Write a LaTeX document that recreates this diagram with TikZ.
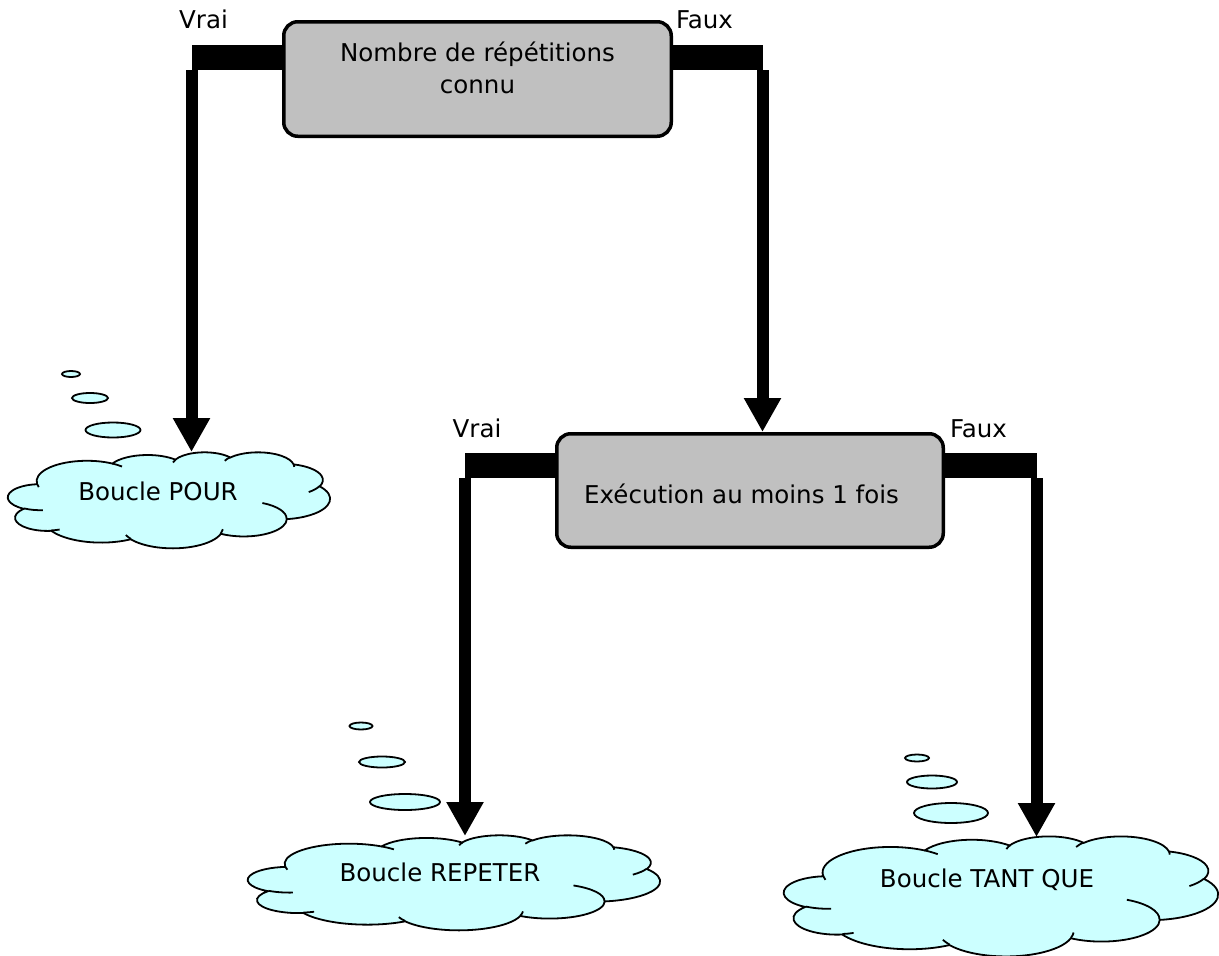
\documentclass[tikz,border=0pt]{standalone}
\usepackage{fontspec}
\setmainfont{DejaVu Sans}
\usetikzlibrary{arrows.meta}
\definecolor{cloudfill}{HTML}{CCFFFF}
\definecolor{boxfill}{HTML}{C0C0C0}

% Elliptical arc given with geometric angles: turn them into the
% parametric start angle and sweep that TikZ's arc expects.
\newcommand\cloudprep[4]{%
  \pgfmathparse{atan2((#1)*sin(#3),(#2)*cos(#3))}\global\let\cldS\pgfmathresult
  \pgfmathparse{atan2((#1)*sin((#3)+(#4)),(#2)*cos((#3)+(#4)))}\global\let\cldE\pgfmathresult
  \pgfmathparse{mod(\cldE-\cldS+720,360)}\global\let\cldD\pgfmathresult}

% Cloud outline in a 432 x 432 frame, fitted to the box left/top/width/height
\newcommand\cloudoutline[4]{%
  \pgfmathsetmacro\cldux{#3/432}%
  \pgfmathsetmacro\clduy{#4/432}%
  \begin{scope}[shift={(#1pt,-#2pt)}, x=\cldux pt, y=-\clduy pt]
    \filldraw[cloudline, fill=cloudfill] (39,143.7)
      \foreach \w/\h/\s/\d in {
        67.53/91.90/-190.4875/123.7805,
        53.33/72.67/-144.1024/89.9452,
        43.65/59.45/-145.8079/99.7230,
        48.57/65.95/-130.9861/117.2417,
        53.33/72.73/-78.7089/109.0269,
        67.75/92.20/-46.2673/130.2690,
        57.85/78.67/0.6250/114.0333,
        67.52/92.15/22.4516/115.1726,
        77.20/105.43/66.2426/75.7110,
        43.60/59.18/-274.9421/146.7356,
        43.45/59.45/-246.8285/152.5189}
      {\pgfextra{\cloudprep{\w}{\h}{\s}{\d}}
       arc[start angle=\cldS, delta angle=\cldD, x radius=\w, y radius=\h]}
      -- cycle;
    \foreach \px/\py/\w/\h/\s/\d in {
        46.93/261.77/43.45/59.45/86.7420/26.4295,
        69.28/348.99/43.60/59.18/73.6105/11.4475,
        164.78/390.90/67.52/92.15/137.6242/14.0811,
        288.27/347.51/67.52/92.15/6.4533/15.9984,
        341.29/229.54/57.85/78.67/-70.2924/70.9174,
        417.98/153.54/53.33/72.73/30.3180/27.7515,
        383.24/54.26/48.57/65.95/-13.7443/14.8589,
        290.78/39.52/48.57/65.95/-149.1815/18.1954,
        221.41/47.20/43.65/59.45/-163.4943/17.6964,
        140.00/51.92/67.53/91.90/-66.7070/12.3194,
        41.27/157.89/67.53/91.90/157.6544/11.8582}
      {\draw[cloudline] (\px,\py) \pgfextra{\cloudprep{\w}{\h}{\s}{\d}}
         arc[start angle=\cldS, delta angle=\cldD, x radius=\w, y radius=\h];}
  \end{scope}}

\tikzset{
  cloudline/.style={draw=black, line width=1.8pt},
  bubble/.style={cloudline, fill=cloudfill},
  decision/.style={draw=black, line width=3.5pt, fill=boxfill,
    rounded corners=14pt, inner sep=0pt},
  lbl/.style={font=\fontsize{24.5}{29}\selectfont, inner sep=0pt, anchor=base},
  bar/.style={draw=black, line width=25pt},
  shaft/.style={draw=black, line width=12pt,
    -{Triangle[width=35pt,length=34pt]}},
}

\begin{document}
\begin{tikzpicture}[x=1pt, y=-1pt]
  \useasboundingbox (0,0) rectangle (1219,956);
  \fill[white] (0,0) rectangle (1219,956);

  % clouds with their trails of small bubbles
  \cloudoutline{8}{452}{322}{96}
  \draw[bubble] (71,374) ellipse [x radius=9, y radius=3];
  \draw[bubble] (90,398) ellipse [x radius=18, y radius=5];
  \draw[bubble] (113,430) ellipse [x radius=27.5, y radius=7.5];

  \cloudoutline{248}{835}{412}{95}
  \draw[bubble] (361,726) ellipse [x radius=11.5, y radius=3.5];
  \draw[bubble] (382,762) ellipse [x radius=23, y radius=5.5];
  \draw[bubble] (405,802) ellipse [x radius=35, y radius=8];

  \cloudoutline{784}{836}{434}{120}
  \draw[bubble] (917,758) ellipse [x radius=12, y radius=3.5];
  \draw[bubble] (932,782) ellipse [x radius=25, y radius=6.5];
  \draw[bubble] (951,813) ellipse [x radius=37, y radius=10];

  % decision boxes
  \node[decision, minimum width=387.5pt, minimum height=114.5pt] (q1) at (477.5,79) {};
  \node[decision, minimum width=386.5pt, minimum height=113.5pt] (q2) at (750,490.5) {};

  % corners and ends of the connectors
  \coordinate (j1) at (191.5,57.5);  \coordinate (s1) at (191.5,70);
  \coordinate (t1) at (191.5,452);
  \coordinate (j2) at (762.5,57.5);  \coordinate (s2) at (762.5,70);
  \coordinate (j3) at (465,465.5);   \coordinate (s3) at (465,478);
  \coordinate (t3) at (465,836);
  \coordinate (j4) at (1036.5,465.5); \coordinate (s4) at (1036.5,478);
  \coordinate (t4) at (1036.5,837);

  \draw[bar] (q1.west |- j1) -- (j1);
  \draw[shaft] (s1) -- (t1);
  \draw[bar] (q1.east |- j2) -- (j2);
  \draw[shaft] (s2) -- (q2.north -| s2);
  \draw[bar] (q2.west |- j3) -- (j3);
  \draw[shaft] (s3) -- (t3);
  \draw[bar] (q2.east |- j4) -- (j4);
  \draw[shaft] (s4) -- (t4);

  % texts
  \node[lbl] (q1a) at (477.5,61) {Nombre de répétitions};
  \node[lbl] (q1b) at (477.5,93) {connu};
  \node[lbl, anchor=base west] (q2a) at (584,503) {Exécution au moins 1 fois};

  \node[lbl] (v1) at (203.5,28) {Vrai};
  \node[lbl] (f1) at (704.5,28) {Faux};
  \node[lbl] (v2) at (477,437) {Vrai};
  \node[lbl] (f2) at (978.5,437) {Faux};

  \node[lbl] (pour) at (158,500) {Boucle POUR};
  \node[lbl] (repeter) at (440,881) {Boucle REPETER};
  \node[lbl] (tantque) at (987,887) {Boucle TANT QUE};
\end{tikzpicture}
\end{document}
